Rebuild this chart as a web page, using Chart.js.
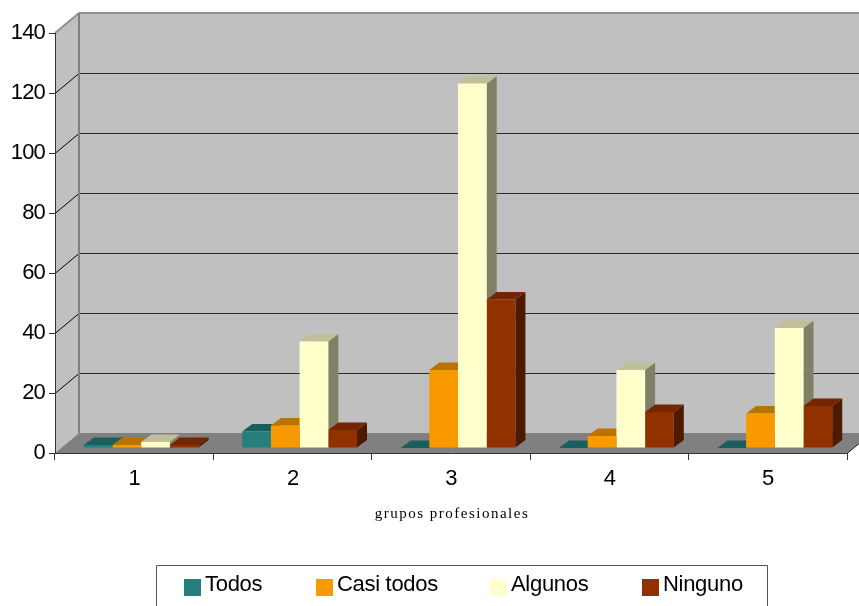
<!DOCTYPE html>
<html>
<head>
<meta charset="utf-8">
<title>grupos profesionales</title>
<script src="https://cdn.jsdelivr.net/npm/chart.js@4/dist/chart.umd.min.js"></script>
<style>
    html, body { margin: 0; padding: 0; background: #fff; }
    canvas { display: block; }
</style>
</head>
<body>
<canvas id="grupos_chart" width="859" height="606"></canvas>
<script>
const categories = ["1", "2", "3", "4", "5"];
const todos = [1, 5.5, 0, 0, 0];
const casiTodos = [1, 7.5, 26, 4, 11.5];
const algunos = [2, 35.5, 121.5, 26, 40];
const ninguno = [1, 6, 49.5, 12, 14];

// front, top and side colour of each series
const seriesColors = [
    { front: "#267F7F", top: "#1A5F5F", side: "#134848" },
    { front: "#F99900", top: "#BB7300", side: "#7D4D00" },
    { front: "#FFFFCC", top: "#BFBF99", side: "#808066" },
    { front: "#923100", top: "#732600", side: "#4D1A00" }
];

const DEPTH_X = 24, DEPTH_Y = -20;     // wall box depth
const BAR_X = 7, BAR_Y = -5;           // bars stand a little inside the box
const BAR_DX = 10, BAR_DY = -7.5;      // bar extrusion
const FONT = "Liberation Sans, Arial, sans-serif";

function poly(ctx, color, pts) {
    ctx.fillStyle = color;
    ctx.beginPath();
    pts.forEach((p, i) => i ? ctx.lineTo(p[0], p[1]) : ctx.moveTo(p[0], p[1]));
    ctx.closePath();
    ctx.fill();
}

function line(ctx, color, width, x1, y1, x2, y2) {
    ctx.strokeStyle = color;
    ctx.lineWidth = width;
    ctx.beginPath();
    ctx.moveTo(x1, y1);
    ctx.lineTo(x2, y2);
    ctx.stroke();
}

// back wall, side wall, floor and their gridlines
const wallsPlugin = {
    id: "walls",
    beforeDraw(chart) {
        const ctx = chart.ctx, a = chart.chartArea, y = chart.scales.y;
        const l = a.left, r = a.right, t = a.top, b = a.bottom;
        ctx.save();
        poly(ctx, "#C0C0C0", [[l, t], [l + DEPTH_X, t + DEPTH_Y], [r + DEPTH_X, t + DEPTH_Y], [r + DEPTH_X, b + DEPTH_Y], [l + DEPTH_X, b + DEPTH_Y], [l, b]]);
        poly(ctx, "#808080", [[l, b], [l + DEPTH_X, b + DEPTH_Y], [r + DEPTH_X, b + DEPTH_Y], [r, b]]);
        y.ticks.forEach((tick, i) => {
            const py = y.getPixelForTick(i);
            if (tick.value === 0 || tick.value === 140) return;
            line(ctx, "#000", 1, l, py + 0.5, l + DEPTH_X, py + DEPTH_Y + 0.5);
            line(ctx, "#2A2A2A", 1, l + DEPTH_X, py + DEPTH_Y + 0.5, r + DEPTH_X, py + DEPTH_Y + 0.5);
        });
        line(ctx, "#909090", 2, l, t, l + DEPTH_X, t + DEPTH_Y);
        line(ctx, "#909090", 2, l + DEPTH_X, t + DEPTH_Y, r + DEPTH_X, t + DEPTH_Y);
        line(ctx, "#808080", 2, l + DEPTH_X, t + DEPTH_Y, l + DEPTH_X, b + DEPTH_Y);
        line(ctx, "#000", 1, r, b + 0.5, r + DEPTH_X, b + DEPTH_Y + 0.5);
        ctx.restore();
        // the large axis digits run a little narrow
        ctx.letterSpacing = "-0.8px";
    },
    // tops and sides go under the fronts the library draws next
    beforeDatasetsDraw(chart) {
        const ctx = chart.ctx;
        ctx.letterSpacing = "0px";
        ctx.save();
        ctx.translate(BAR_X, BAR_Y);
        categories.forEach((c, i) => {
            seriesColors.forEach((col, d) => {
                const bar = chart.getDatasetMeta(d).data[i];
                const x1 = bar.x - bar.width / 2, x2 = bar.x + bar.width / 2;
                const top = bar.y, base = bar.base;
                poly(ctx, col.side, [[x2, top], [x2 + BAR_DX, top + BAR_DY], [x2 + BAR_DX, base + BAR_DY], [x2, base]]);
                poly(ctx, col.top, [[x1, top], [x1 + BAR_DX, top + BAR_DY], [x2 + BAR_DX, top + BAR_DY], [x2, top]]);
            });
        });
    },
    afterDatasetsDraw(chart) {
        chart.ctx.restore();
    },
    afterDraw(chart) {
        const ctx = chart.ctx;
        ctx.save();
        // axis caption
        ctx.fillStyle = "#000";
        ctx.font = "15px 'Liberation Serif', serif";
        ctx.textAlign = "center";
        ctx.textBaseline = "middle";
        ctx.letterSpacing = "1.5px";
        ctx.fillText("grupos profesionales", 452, 514);
        // legend frame, runs off the bottom of the canvas
        ctx.strokeStyle = "#555";
        ctx.lineWidth = 1;
        ctx.beginPath();
        ctx.moveTo(156.5, 606);
        ctx.lineTo(156.5, 565.5);
        ctx.lineTo(767.5, 565.5);
        ctx.lineTo(767.5, 606);
        ctx.stroke();
        // legend entries
        const swatchX = [184, 316, 490, 642];
        ctx.font = "22px " + FONT;
        ctx.letterSpacing = "-0.3px";
        ctx.textAlign = "left";
        chart.data.datasets.forEach((ds, d) => {
            ctx.fillStyle = ds.backgroundColor;
            ctx.fillRect(swatchX[d], 579, 17, 17);
            ctx.fillStyle = "#000";
            ctx.fillText(ds.label, swatchX[d] + 21, 585);
        });
        ctx.restore();
    }
};

const grupos_chart = new Chart(document.getElementById("grupos_chart"), {
    type: "bar",
    data: {
        labels: categories,
        datasets: [
            { label: "Todos", data: todos, backgroundColor: seriesColors[0].front },
            { label: "Casi todos", data: casiTodos, backgroundColor: seriesColors[1].front },
            { label: "Algunos", data: algunos, backgroundColor: seriesColors[2].front },
            { label: "Ninguno", data: ninguno, backgroundColor: seriesColors[3].front }
        ]
    },
    options: {
        responsive: false,
        animation: false,
        datasets: { bar: { barPercentage: 1, categoryPercentage: 0.725, clip: false } },
        layout: { padding: { top: 33, right: 12, left: 0, bottom: 0 } },
        plugins: { legend: { display: false }, tooltip: { enabled: false } },
        scales: {
            x: {
                afterFit(scale) { scale.height = 153; },
                grid: { drawOnChartArea: false, color: "#333", tickLength: 7 },
                border: { color: "#333", width: 1 },
                ticks: { color: "#000", font: { family: FONT, size: 22 }, padding: 6, maxRotation: 0 }
            },
            y: {
                min: 0,
                max: 140,
                afterFit(scale) { scale.width = 55; },
                grid: { drawOnChartArea: false, color: "#333", tickLength: 6 },
                border: { color: "#333", width: 1 },
                ticks: { stepSize: 20, color: "#000", font: { family: FONT, size: 22 }, padding: 4 }
            }
        }
    },
    plugins: [wallsPlugin]
});
</script>
</body>
</html>
